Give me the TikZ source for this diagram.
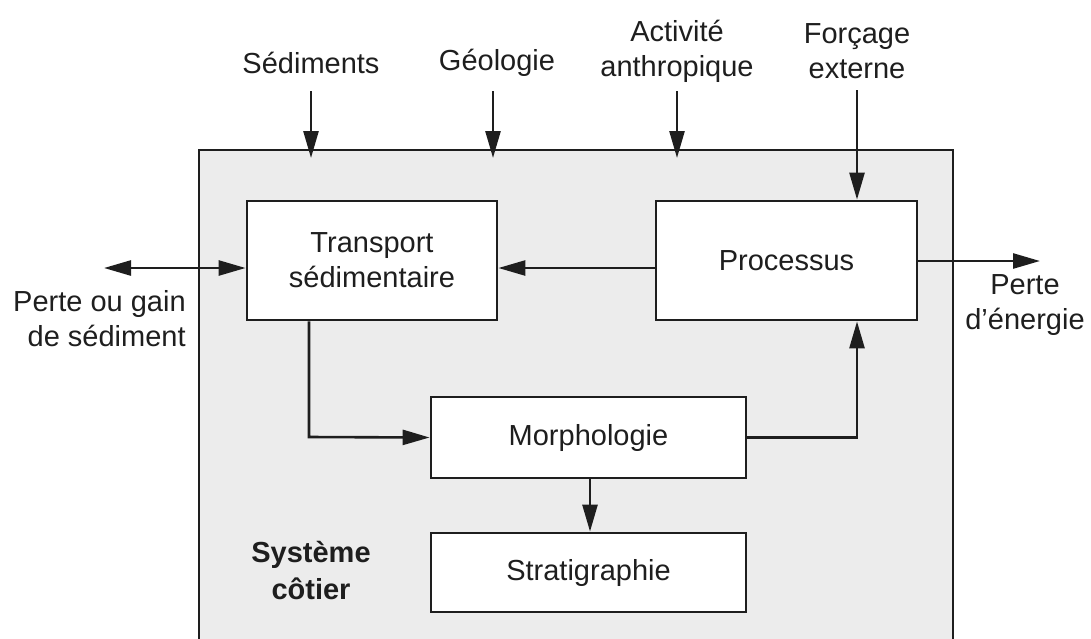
\documentclass[tikz,border=0pt]{standalone}
\usepackage{fontspec}
\setmainfont{Liberation Sans}
\usetikzlibrary{arrows.meta}
\definecolor{sysgray}{HTML}{ECECEC}
\definecolor{ink}{HTML}{1E1E1E}
\begin{document}
\begin{tikzpicture}[x=1pt,y=-1pt,
  line width=2.6pt,
  every node/.style={font=\fontsize{29}{35}\selectfont, text=ink, inner sep=0pt},
  box/.style={draw=ink, fill=white, line width=2.8pt, align=center},
  arr/.style={draw=ink, -{Triangle[length=27pt,width=15pt]}},
  lbl/.style={align=center}]
\useasboundingbox (0,0) rectangle (1091,638);
% system box (open at the bottom)
\fill[sysgray] (199,150) rectangle (953,645);
\draw[ink, line width=2.8pt] (199,645) -- (199,150) -- (953,150) -- (953,645);
% boxes
\node[box, minimum width=250pt, minimum height=119pt] (tr) at (372,260.5) {Transport\\sédimentaire};
\node[box, minimum width=261pt, minimum height=119pt] (pr) at (786.5,260.5) {Processus};
\node[box, minimum width=315pt, minimum height=81pt] (mo) at (588.5,437.5) {Morphologie};
\node[box, minimum width=315pt, minimum height=79pt] (st) at (588.5,572.5) {Stratigraphie};
% system label
\node[lbl, font=\fontsize{29}{37}\selectfont\bfseries] (sys) at (311,570) {Système\\côtier};
% top labels
\node[lbl] (sed) at (311,63) {Sédiments};
\node[lbl] (geo) at (497,63) {Géologie};
\node[lbl] (act) at (677,51) {Activité\\anthropique};
\node[lbl] (for) at (857,51) {Forçage\\externe};
% side labels
\node[align=right, anchor=east] (pg) at (187,319) {Perte ou gain\\de sédiment};
\node[lbl] (pe) at (1025,305) {Perte\\d’énergie};
% coordinates
\coordinate (sedT) at (311,91);
\coordinate (sedB) at (311,158);
\coordinate (geoT) at (493,91);
\coordinate (geoB) at (493,158);
\coordinate (actT) at (677,91);
\coordinate (actB) at (677,158);
\coordinate (forT) at (857,90);
\coordinate (lft) at (104,268);
\coordinate (rgt) at (1040,261);
% arrows
\draw[arr] (sedT) -- (sedB);
\draw[arr] (geoT) -- (geoB);
\draw[arr] (actT) -- (actB);
\draw[arr] (forT) -- (forT |- pr.north);
\draw[draw=ink, {Triangle[length=27pt,width=15pt]}-{Triangle[length=27pt,width=15pt]}] (lft) -- (lft -| tr.west);
\draw[arr] (pr.west |- 0,268) -- (tr.east |- 0,268);
\draw[arr] (pr.east |- rgt) -- (rgt);
\draw[arr] (tr.south -| 309,0) -- (309,437) -- (mo.west);
\draw[arr] (mo.east) -- (857,437.5) -- (857,0 |- pr.south);
\draw[arr] (590,0 |- mo.south) -- (590,0 |- st.north);
\end{tikzpicture}
\end{document}
